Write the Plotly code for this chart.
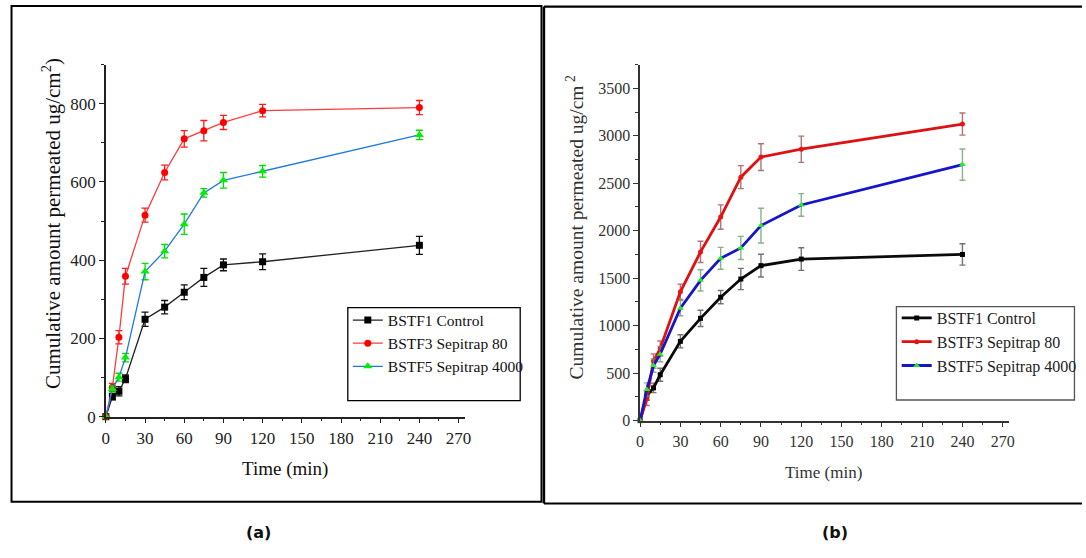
import plotly.graph_objects as go

W, H = 1086, 558

# sampling times (min)
time_min = [0, 5, 10, 15, 30, 45, 60, 75, 90, 120, 240]

# panel (a): cumulative amount permeated (ug/cm2) with SD
a_control = [0, 51, 65, 97, 249, 280, 318, 356, 388, 396, 438]
a_control_sd = [0, 8, 12, 10, 18, 17, 19, 23, 15, 20, 23]
a_sep80 = [0, 75, 203, 359, 515, 624, 710, 731, 752, 782, 790]
a_sep80_sd = [0, 10, 17, 20, 18, 19, 21, 26, 18, 16, 18]
a_sep4000 = [0, 71, 101, 151, 371, 423, 492, 572, 604, 627, 720]
a_sep4000_sd = [0, 8, 10, 11, 21, 17, 26, 11, 20, 15, 12]

# panel (b)
b_control = [0, 265, 345, 483, 835, 1077, 1300, 1491, 1632, 1701, 1750]
b_control_sd = [0, 50, 50, 69, 69, 86, 70, 112, 120, 119, 112]
b_sep80 = [0, 230, 628, 759, 1356, 1777, 2144, 2564, 2775, 2858, 3123]
b_sep80_sd = [0, 70, 75, 80, 81, 112, 128, 121, 141, 138, 116]
b_sep4000 = [0, 327, 580, 700, 1184, 1477, 1709, 1818, 2054, 2271, 2696]
b_sep4000_sd = [0, 70, 70, 80, 80, 112, 115, 122, 183, 119, 164]

series_names = ["BSTF1 Control", "BSTF3 Sepitrap 80", "BSTF5 Sepitrap 4000"]
x_ticks = [0, 30, 60, 90, 120, 150, 180, 210, 240, 270]

SERIF = "Liberation Serif, Times New Roman, serif"


def px(x):
    return x / W


def py(y):
    return 1 - y / H


fig = go.Figure()

# ---- panel (a) ----
a_specs = [
    (a_control, a_control_sd, "#222222", "#000000", "square", 7, "#111111"),
    (a_sep80, a_sep80_sd, "#ff3b3b", "#ff0000", "circle", 7, "#ff1a1a"),
    (a_sep4000, a_sep4000_sd, "#1f78e0", "#00ee00", "triangle-up", 8, "#00dd00"),
]
for name, (vals, sd, lc, mc, sym, ms, ec) in zip(series_names, a_specs):
    fig.add_trace(go.Scatter(
        x=time_min, y=vals, name=name, mode="lines+markers",
        line=dict(color=lc, width=1.3),
        marker=dict(color=mc, symbol=sym, size=ms, line=dict(width=0)),
        error_y=dict(type="data", array=sd, visible=True, color=ec,
                     thickness=1.3, width=3.5),
        xaxis="x", yaxis="y", legend="legend",
        cliponaxis=False,
    ))

# ---- panel (b) ----
b_specs = [
    (b_control, b_control_sd, "#0a0a0a", "#000000", "square", 5, "rgba(70,70,70,0.75)"),
    (b_sep80, b_sep80_sd, "#dd1111", "#ee1111", "circle", 5, "rgba(150,70,70,0.75)"),
    (b_sep4000, b_sep4000_sd, "#1616c8", "#22ee22", "triangle-up", 6, "rgba(100,150,100,0.75)"),
]
for name, (vals, sd, lc, mc, sym, ms, ec) in zip(series_names, b_specs):
    fig.add_trace(go.Scatter(
        x=time_min, y=vals, name=name, mode="lines+markers",
        line=dict(color=lc, width=2.8),
        marker=dict(color=mc, symbol=sym, size=ms, line=dict(width=0)),
        error_y=dict(type="data", array=sd, visible=True, color=ec,
                     thickness=1.4, width=3),
        xaxis="x2", yaxis="y2", legend="legend2",
        cliponaxis=False,
    ))


def x_axis(domain, anchor, font_size, color):
    return dict(
        domain=domain, anchor=anchor, range=[0, 275],
        tickmode="array", tickvals=x_ticks,
        showgrid=False, zeroline=False, showline=True,
        linecolor=color, linewidth=1.5,
        ticks="outside", ticklen=5, tickwidth=1.3, tickcolor=color,
        minor=dict(dtick=15, tick0=0, ticks="outside", ticklen=3,
                   tickwidth=1, tickcolor=color),
        tickfont=dict(family=SERIF, size=font_size, color=color),
    )


def y_axis(domain, anchor, rng, dtick, minor, font_size, color):
    return dict(
        domain=domain, anchor=anchor, range=rng,
        tick0=0, dtick=dtick,
        showgrid=False, zeroline=False, showline=True,
        linecolor=color, linewidth=1.5,
        ticks="outside", ticklen=5, tickwidth=1.3, tickcolor=color,
        minor=dict(dtick=minor, tick0=0, ticks="outside", ticklen=3,
                   tickwidth=1, tickcolor=color),
        tickfont=dict(family=SERIF, size=font_size, color=color),
    )


shapes = []
# outer frames
shapes.append(dict(type="rect", xref="paper", yref="paper",
                   x0=px(7.6), x1=px(542.5), y0=py(511), y1=py(6),
                   line=dict(color="#000000", width=2)))
for (x0, y0, x1, y1, w) in [(545, 6.7, W + 2, 6.7, 2.4),
                            (545, 6.7, 545, 512.7, 2.4),
                            (545, 512.7, W + 2, 512.7, 2)]:
    shapes.append(dict(type="line", xref="paper", yref="paper",
                       x0=px(x0), x1=px(x1), y0=py(y0), y1=py(y1),
                       line=dict(color="#000000", width=w)))
# legend boxes
shapes.append(dict(type="rect", xref="paper", yref="paper",
                   x0=px(347), x1=px(521), y0=py(408), y1=py(313.3),
                   line=dict(color="#000000", width=1.3)))
shapes.append(dict(type="rect", xref="paper", yref="paper",
                   x0=px(900.7), x1=px(1080.4), y0=py(407.3), y1=py(312.3),
                   line=dict(color="#555555", width=1.3)))


def label(text, x, y, size, color, family=SERIF, angle=0):
    return dict(text=text, textangle=angle, x=px(x), y=py(y),
                xref="paper", yref="paper", xanchor="center", yanchor="middle",
                showarrow=False, font=dict(family=family, size=size, color=color))


annotations = [
    label("Cumulative amount permeated ug/cm<sup>2</sup>)", 48.5, 228, 21, "#111111", angle=-90),
    label("Time (min)", 284, 478, 19, "#111111"),
    label("Cumulative amount permeated ug/cm<sup> 2</sup>", 576, 232, 19.5, "#333333", angle=-90),
    label("Time (min)", 827.6, 481, 17, "#333333"),
    label("<b>(a)</b>", 257.3, 542.3, 16, "#111111", family="DejaVu Sans"),
    label("<b>(b)</b>", 838.4, 542, 16, "#111111", family="DejaVu Sans"),
]

fig.update_layout(
    width=W, height=H, autosize=False,
    margin=dict(l=0, r=0, t=0, b=0),
    paper_bgcolor="white", plot_bgcolor="rgba(0,0,0,0)",
    xaxis=x_axis([px(102.8), px(465.4)], "y", 17, "#222222"),
    yaxis=y_axis([py(424.3), py(65.7)], "x", [0, 900], 200, 100, 17, "#222222"),
    xaxis2=x_axis([px(642), px(1014.8)], "y2", 16, "#333333"),
    yaxis2=y_axis([py(428.3), py(65.7)], "x2", [0, 3750], 500, 250, 16, "#333333"),
    legend=dict(x=px(347), y=py(309), xanchor="left", yanchor="top",
                bgcolor="rgba(0,0,0,0)", borderwidth=0,
                font=dict(family=SERIF, size=15.5, color="#111111")),
    legend2=dict(x=px(901), y=py(306.5), xanchor="left", yanchor="top",
                 bgcolor="rgba(0,0,0,0)", borderwidth=0,
                 font=dict(family=SERIF, size=16, color="#222222")),
    shapes=shapes,
    annotations=annotations,
    showlegend=True,
)

fig.write_html("out.html")
